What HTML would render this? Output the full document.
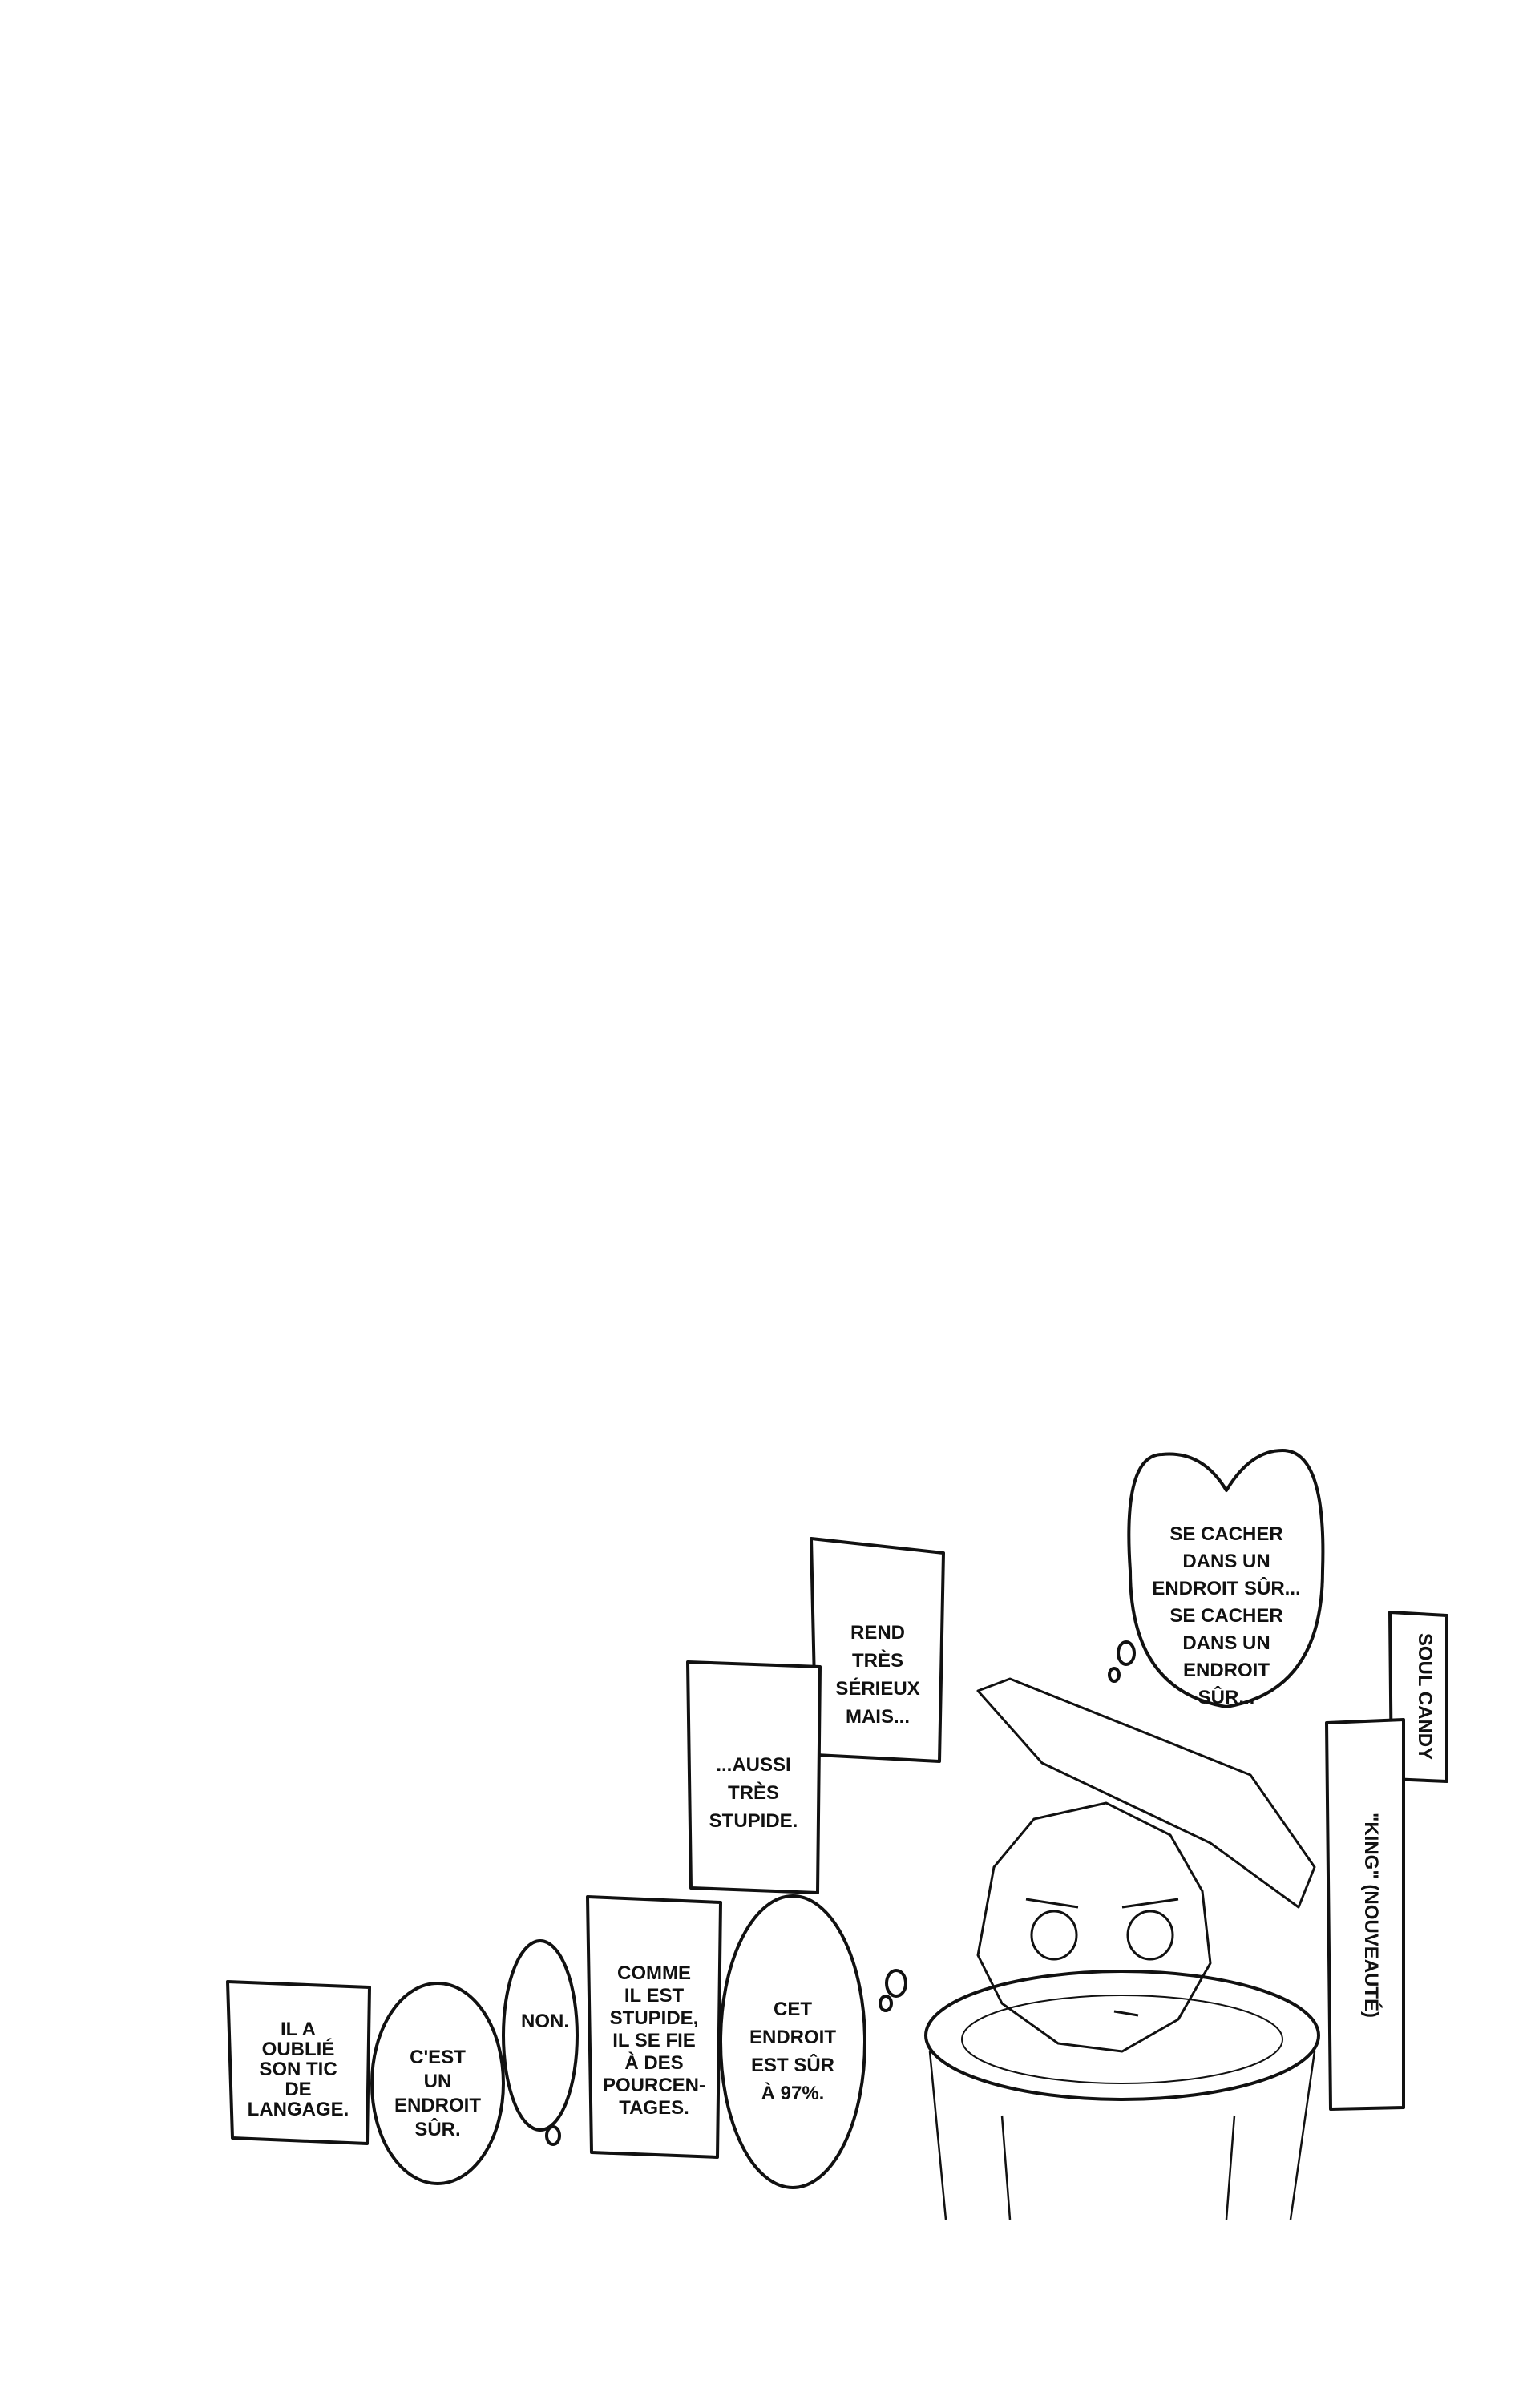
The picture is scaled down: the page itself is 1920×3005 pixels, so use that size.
<!DOCTYPE html>
<html><head><meta charset="utf-8"><style>
html,body{margin:0;padding:0;background:#fff;}
svg{display:block}
text{font-family:"Liberation Sans",sans-serif;fill:#111;font-size:24px;text-anchor:middle;font-weight:bold}
</style></head><body>
<svg width="1920" height="3005" viewBox="0 0 1920 3005" xmlns="http://www.w3.org/2000/svg">
<g fill="#fff" stroke="#111" stroke-width="4" stroke-linejoin="round">
<path d="M1160 2560 L1180 2770 M1640 2560 L1610 2770 M1250 2640 L1260 2770 M1540 2640 L1530 2770" fill="none" stroke-width="2.5"/>
<ellipse cx="1400" cy="2540" rx="245" ry="80" fill="none" stroke-width="4"/>
<ellipse cx="1400" cy="2545" rx="200" ry="55" fill="none" stroke-width="2"/>
<path d="M1220 2110 L1260 2095 L1560 2215 L1640 2330 L1620 2380 L1510 2300 L1300 2200 Z" fill="none" stroke-width="3"/>
<path d="M1220 2440 L1240 2330 L1290 2270 L1380 2250 L1460 2290 L1500 2360 L1510 2450 L1470 2520 L1400 2560 L1320 2550 L1250 2500 Z" fill="none" stroke-width="3"/>
<ellipse cx="1315" cy="2415" rx="28" ry="30" fill="none" stroke-width="3"/>
<ellipse cx="1435" cy="2415" rx="28" ry="30" fill="none" stroke-width="3"/>
<path d="M1280 2370 L1345 2380 M1400 2380 L1470 2370 M1390 2510 L1420 2515" fill="none" stroke-width="3"/>
<path d="M284 2473 L461 2480 L458 2675 L290 2668 Z"/>
<path d="M1012 1920 L1177 1938 L1172 2198 L1018 2190 Z"/>
<path d="M858 2074 L1023 2080 L1020 2362 L862 2356 Z"/>
<path d="M733 2367 L899 2374 L895 2692 L738 2686 Z"/>
<path d="M1734 2012 L1805 2016 L1805 2223 L1736 2220 Z"/>
<path d="M1655 2150 L1751 2146 L1751 2630 L1660 2632 Z"/>
<ellipse cx="546" cy="2600" rx="82" ry="125"/>
<ellipse cx="674" cy="2540" rx="46" ry="118"/>
<ellipse cx="989" cy="2548" rx="90" ry="182"/>
<path d="M1450 1815 Q1400 1815 1410 1960 Q1410 2110 1530 2130 Q1650 2110 1650 1960 Q1655 1810 1600 1810 Q1560 1810 1530 1860 Q1500 1810 1450 1815 Z"/>
<ellipse cx="1405" cy="2063" rx="10" ry="14"/>
<ellipse cx="1390" cy="2090" rx="6" ry="8"/>
<ellipse cx="1118" cy="2475" rx="12" ry="16"/>
<ellipse cx="1105" cy="2500" rx="7" ry="9"/>
<ellipse cx="690" cy="2665" rx="8" ry="11"/>
</g>
<text x="372" y="2540" font-size="20">IL A</text>
<text x="372" y="2565" font-size="20">OUBLIÉ</text>
<text x="372" y="2590" font-size="20">SON TIC</text>
<text x="372" y="2615" font-size="20">DE</text>
<text x="372" y="2640" font-size="20">LANGAGE.</text>
<text x="546" y="2575">C'EST</text>
<text x="546" y="2605">UN</text>
<text x="546" y="2635">ENDROIT</text>
<text x="546" y="2665">SÛR.</text>
<text x="680" y="2530">NON.</text>
<text x="816" y="2470" font-size="22">COMME</text>
<text x="816" y="2498" font-size="22">IL EST</text>
<text x="816" y="2526" font-size="22">STUPIDE,</text>
<text x="816" y="2554" font-size="22">IL SE FIE</text>
<text x="816" y="2582" font-size="22">À DES</text>
<text x="816" y="2610" font-size="22">POURCEN-</text>
<text x="816" y="2638" font-size="22">TAGES.</text>
<text x="989" y="2515" font-size="27">CET</text>
<text x="989" y="2550" font-size="27">ENDROIT</text>
<text x="989" y="2585" font-size="27">EST SÛR</text>
<text x="989" y="2620" font-size="27">À 97%.</text>
<text x="1095" y="2045" font-size="26">REND</text>
<text x="1095" y="2080" font-size="26">TRÈS</text>
<text x="1095" y="2115" font-size="26">SÉRIEUX</text>
<text x="1095" y="2150" font-size="26">MAIS...</text>
<text x="940" y="2210" font-size="26">...AUSSI</text>
<text x="940" y="2245" font-size="26">TRÈS</text>
<text x="940" y="2280" font-size="26">STUPIDE.</text>
<text x="1530" y="1922" font-size="26">SE CACHER</text>
<text x="1530" y="1956" font-size="26">DANS UN</text>
<text x="1530" y="1990" font-size="26">ENDROIT SÛR...</text>
<text x="1530" y="2024" font-size="26">SE CACHER</text>
<text x="1530" y="2058" font-size="26">DANS UN</text>
<text x="1530" y="2092" font-size="26">ENDROIT</text>
<text x="1530" y="2126" font-size="26">SÛR...</text>
<text transform="translate(1770,2117) rotate(90)" font-size="32">SOUL CANDY</text>
<text transform="translate(1703,2390) rotate(90)" font-size="30">"KING" (NOUVEAUTÉ)</text>
</svg>
</body></html>
